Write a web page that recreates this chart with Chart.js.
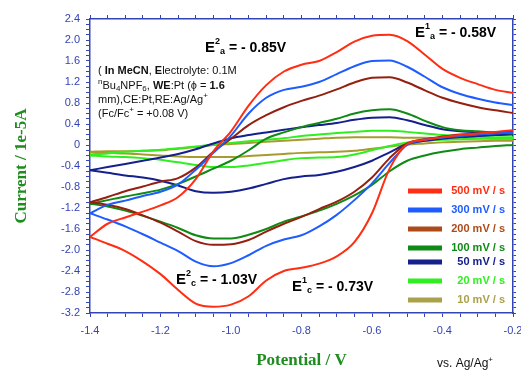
<!DOCTYPE html>
<html>
<head>
<meta charset="utf-8">
<script src="https://cdn.jsdelivr.net/npm/chart.js@4.4.1/dist/chart.umd.min.js"></script>
<style>
  body { margin: 0; background: #fff; }
</style>
</head>
<body>
<canvas id="cvChart" width="521" height="372"></canvas>
<script>
// potential grid (V vs Ag/Ag+), same for every scan
let potentials = [-1.40, -1.35, -1.30, -1.25, -1.20, -1.15, -1.10, -1.05, -1.00, -0.95, -0.90, -0.85, -0.80,
                  -0.75, -0.70, -0.65, -0.60, -0.55, -0.50, -0.45, -0.40, -0.35, -0.30, -0.25, -0.20];

let rates = ['500 mV / s', '300 mV / s', '200 mV / s', '100 mV / s', '50 mV / s', '20 mV / s', '10 mV / s'];

// current (1e-5 A), forward (anodic) sweep
let anodic500 = [-1.75, -1.50, -1.38, -1.27, -1.15, -0.99, -0.65, -0.12, 0.26, 0.75, 1.14, 1.40, 1.53, 1.60, 1.77, 1.97, 2.08, 2.10, 1.98, 1.72, 1.45, 1.28, 1.16, 1.05, 0.99];
let anodic300 = [-1.30, -1.14, -1.06, -0.97, -0.89, -0.75, -0.47, -0.15, 0.18, 0.60, 0.90, 1.05, 1.11, 1.20, 1.35, 1.50, 1.60, 1.61, 1.49, 1.30, 1.10, 0.97, 0.88, 0.81, 0.76];
let anodic200 = [-1.09, -0.99, -0.88, -0.79, -0.70, -0.63, -0.43, -0.13, 0.12, 0.38, 0.57, 0.72, 0.84, 0.94, 1.06, 1.19, 1.28, 1.29, 1.19, 1.04, 0.90, 0.80, 0.72, 0.66, 0.61];
let anodic100 = [-1.12, -1.05, -0.98, -0.92, -0.85, -0.74, -0.60, -0.45, -0.30, -0.10, 0.12, 0.24, 0.34, 0.42, 0.50, 0.60, 0.66, 0.68, 0.60, 0.46, 0.34, 0.28, 0.26, 0.24, 0.22];
let anodic50  = [-0.48, -0.42, -0.36, -0.30, -0.24, -0.17, -0.08, 0.03, 0.13, 0.19, 0.24, 0.29, 0.34, 0.38, 0.42, 0.48, 0.52, 0.53, 0.47, 0.38, 0.30, 0.26, 0.24, 0.23, 0.22];
let anodic20  = [-0.18, -0.16, -0.13, -0.11, -0.09, -0.06, -0.03, 0.01, 0.04, 0.07, 0.10, 0.13, 0.17, 0.20, 0.23, 0.25, 0.27, 0.27, 0.25, 0.22, 0.19, 0.17, 0.16, 0.15, 0.15];
let anodic10  = [-0.13, -0.12, -0.12, -0.11, -0.10, -0.07, -0.04, 0.00, 0.02, 0.04, 0.06, 0.08, 0.10, 0.12, 0.14, 0.15, 0.15, 0.15, 0.14, 0.14, 0.13, 0.13, 0.13, 0.12, 0.12];

// current (1e-5 A), reverse (cathodic) sweep, listed on the same grid
let cathodic500 = [-1.75, -1.88, -2.02, -2.22, -2.46, -2.76, -3.02, -3.08, -3.04, -2.88, -2.58, -2.40, -2.34, -2.26, -2.12, -1.85, -1.30, -0.45, 0.02, 0.10, 0.15, 0.19, 0.22, 0.25, 0.28];
let cathodic300 = [-1.30, -1.42, -1.55, -1.70, -1.86, -2.02, -2.22, -2.31, -2.25, -2.10, -1.92, -1.80, -1.72, -1.55, -1.33, -1.05, -0.73, -0.34, 0.00, 0.10, 0.14, 0.17, 0.20, 0.22, 0.24];
let cathodic200 = [-1.09, -1.14, -1.22, -1.34, -1.48, -1.65, -1.83, -1.90, -1.89, -1.81, -1.65, -1.50, -1.37, -1.22, -1.08, -0.89, -0.62, -0.25, 0.03, 0.11, 0.16, 0.20, 0.22, 0.24, 0.26];
let cathodic100 = [-1.12, -1.17, -1.25, -1.35, -1.46, -1.58, -1.72, -1.78, -1.78, -1.71, -1.60, -1.46, -1.36, -1.25, -1.12, -0.96, -0.76, -0.50, -0.30, -0.20, -0.13, -0.08, -0.05, -0.02, 0.00];
let cathodic50  = [-0.48, -0.53, -0.58, -0.62, -0.68, -0.77, -0.88, -0.91, -0.89, -0.83, -0.74, -0.65, -0.60, -0.57, -0.51, -0.42, -0.30, -0.14, 0.02, 0.08, 0.12, 0.15, 0.17, 0.19, 0.20];
let cathodic20  = [-0.20, -0.22, -0.23, -0.25, -0.28, -0.33, -0.38, -0.42, -0.42, -0.39, -0.34, -0.29, -0.25, -0.24, -0.23, -0.18, -0.10, -0.02, 0.05, 0.08, 0.10, 0.11, 0.12, 0.13, 0.13];
let cathodic10  = [-0.13, -0.15, -0.16, -0.18, -0.20, -0.22, -0.23, -0.23, -0.23, -0.21, -0.19, -0.17, -0.15, -0.14, -0.13, -0.11, -0.07, -0.03, 0.01, 0.03, 0.05, 0.06, 0.07, 0.08, 0.08];

let anodic = [anodic500, anodic300, anodic200, anodic100, anodic50, anodic20, anodic10];
let cathodic = [cathodic500, cathodic300, cathodic200, cathodic100, cathodic50, cathodic20, cathodic10];

let lineColors = ['#ff2d12', '#1f5cff', '#951f10', '#0f8a14', '#14208c', '#30ee20', '#a69c2e'];
let legendColors = ['#ff2d12', '#1f5cff', '#ad4a1a', '#0f8a14', '#14208c', '#30ee20', '#aaa24a'];
let legendY = [191, 210, 229, 248, 262, 281, 300];

let axisBlue = '#3344b4';
let titleGreen = '#1f8c1f';

let datasets = [];
for (let i = 0; i < rates.length; i++) {
  [anodic[i], cathodic[i]].forEach(function (currents) {
    datasets.push({
      label: rates[i],
      data: potentials.map(function (p, k) { return { x: p, y: currents[k] }; }),
      borderColor: lineColors[i],
      borderWidth: 2,
      pointRadius: 0,
      showLine: true,
      cubicInterpolationMode: 'monotone'
    });
  });
}

// draw text with super/subscripts: parts = [text, size, bold, dy]
function rich(ctx, x, y, parts, color) {
  ctx.fillStyle = color || '#000';
  ctx.textBaseline = 'middle';
  ctx.textAlign = 'left';
  parts.forEach(function (p) {
    ctx.font = (p[2] ? 'bold ' : '') + p[1] + 'px "Liberation Sans", Arial, sans-serif';
    ctx.fillText(p[0], x, y + (p[3] || 0));
    x += ctx.measureText(p[0]).width;
  });
}

let extras = {
  id: 'extras',
  afterDraw: function (chart) {
    let ctx = chart.ctx;
    ctx.save();

    // peak labels
    rich(ctx, 205, 48, [['E', 15, true], ['2', 9, true, -6], ['a', 9, true, 4], [' = - 0.85V', 14, true]]);
    rich(ctx, 415, 33, [['E', 15, true], ['1', 9, true, -6], ['a', 9, true, 4], [' = - 0.58V', 14, true]]);
    rich(ctx, 176, 280, [['E', 15, true], ['2', 9, true, -6], ['c', 9, true, 4], [' = - 1.03V', 14, true]]);
    rich(ctx, 292, 287, [['E', 15, true], ['1', 9, true, -6], ['c', 9, true, 4], [' = - 0.73V', 14, true]]);

    // conditions block
    rich(ctx, 98, 71, [['( ', 11], ['In MeCN', 11, true], [', ', 11], ['E', 11, true], ['lectrolyte: 0.1M', 11]], '#111');
    rich(ctx, 98, 86, [['n', 8, false, -4], ['Bu', 11], ['4', 8, false, 3], ['NPF', 11], ['6', 8, false, 3], [', ', 11], ['WE', 11, true], [':Pt (\u03d5 = ', 11], ['1.6', 11, true]], '#111');
    rich(ctx, 98, 100, [['mm),CE:Pt,RE:Ag/Ag', 11], ['+', 8, false, -4]], '#111');
    rich(ctx, 98, 114, [['(Fc/Fc', 11], ['+', 8, false, -4], [' = +0.08 V)', 11]], '#111');

    // legend
    for (let i = 0; i < rates.length; i++) {
      ctx.strokeStyle = legendColors[i];
      ctx.lineWidth = 5;
      ctx.beginPath();
      ctx.moveTo(408, legendY[i]);
      ctx.lineTo(442, legendY[i]);
      ctx.stroke();
      ctx.fillStyle = legendColors[i];
      ctx.font = 'bold 11px "Liberation Sans", Arial, sans-serif';
      ctx.textAlign = 'right';
      ctx.textBaseline = 'middle';
      ctx.fillText(rates[i], 505, legendY[i]);
    }

    // reference note
    rich(ctx, 437, 364, [['vs. Ag/Ag', 12], ['+', 8, false, -4]], '#111');
    ctx.restore();
  }
};

function isMajor(v, step) {
  return Math.abs(Math.round(v * 100) % Math.round(step * 100)) === 0;
}

// fixed axis sizes so the plot frame lands where the original has it
function fixSize(w, h) {
  return function (s) {
    if (w !== null) s.width = w;
    if (h !== null) s.height = h;
    s.paddingLeft = 0; s.paddingRight = 0; s.paddingTop = 0; s.paddingBottom = 0;
  };
}

let tickFont = { family: '"Liberation Sans", Arial, sans-serif', size: 11 };
let titleFont = { family: '"Liberation Serif", "Times New Roman", serif', size: 17, weight: 'bold' };

let ctx = document.getElementById('cvChart').getContext('2d');
let cvChart = new Chart(ctx, {
  type: 'scatter',
  data: { datasets: datasets },
  plugins: [extras],
  options: {
    responsive: false,
    animation: false,
    layout: { padding: 0 },
    plugins: { legend: { display: false }, tooltip: { enabled: false } },
    scales: {
      x: {
        type: 'linear', position: 'bottom', min: -1.4, max: -0.2,
        afterFit: fixSize(null, 59),
        ticks: {
          stepSize: 0.05, autoSkip: false, maxRotation: 0, color: axisBlue, font: tickFont, padding: 7,
          callback: function (v) { return isMajor(v, 0.2) ? v.toFixed(1) : ''; }
        },
        grid: { drawOnChartArea: false, tickLength: 4, color: axisBlue },
        border: { color: axisBlue, width: 1.5 },
        title: { display: true, text: 'Potential / V', color: titleGreen, font: titleFont, padding: { top: 0, bottom: 1 } }
      },
      x2: {
        type: 'linear', position: 'top', min: -1.4, max: -0.2,
        afterFit: fixSize(null, 19),
        ticks: { stepSize: 0.05, autoSkip: false, display: false },
        grid: { drawOnChartArea: false, tickLength: 4, color: axisBlue },
        border: { color: axisBlue, width: 1.5 }
      },
      y: {
        type: 'linear', position: 'left', min: -3.2, max: 2.4,
        afterFit: fixSize(90, null),
        ticks: {
          stepSize: 0.1, autoSkip: false, color: axisBlue, font: tickFont, padding: 6,
          callback: function (v) {
            if (!isMajor(v, 0.4)) return '';
            return Math.abs(v) < 1e-9 ? '0' : v.toFixed(1);
          }
        },
        grid: { drawOnChartArea: false, tickLength: 4, color: axisBlue },
        border: { color: axisBlue, width: 1.5 },
        title: { display: true, text: 'Current / 1e-5A', color: titleGreen, font: titleFont, padding: { top: 11, bottom: 0 } }
      },
      y2: {
        type: 'linear', position: 'right', min: -3.2, max: 2.4,
        afterFit: fixSize(8, null),
        ticks: { stepSize: 0.1, autoSkip: false, display: false },
        grid: { drawOnChartArea: false, tickLength: 3, color: axisBlue },
        border: { color: axisBlue, width: 1.5 }
      }
    }
  }
});
</script>
</body>
</html>
